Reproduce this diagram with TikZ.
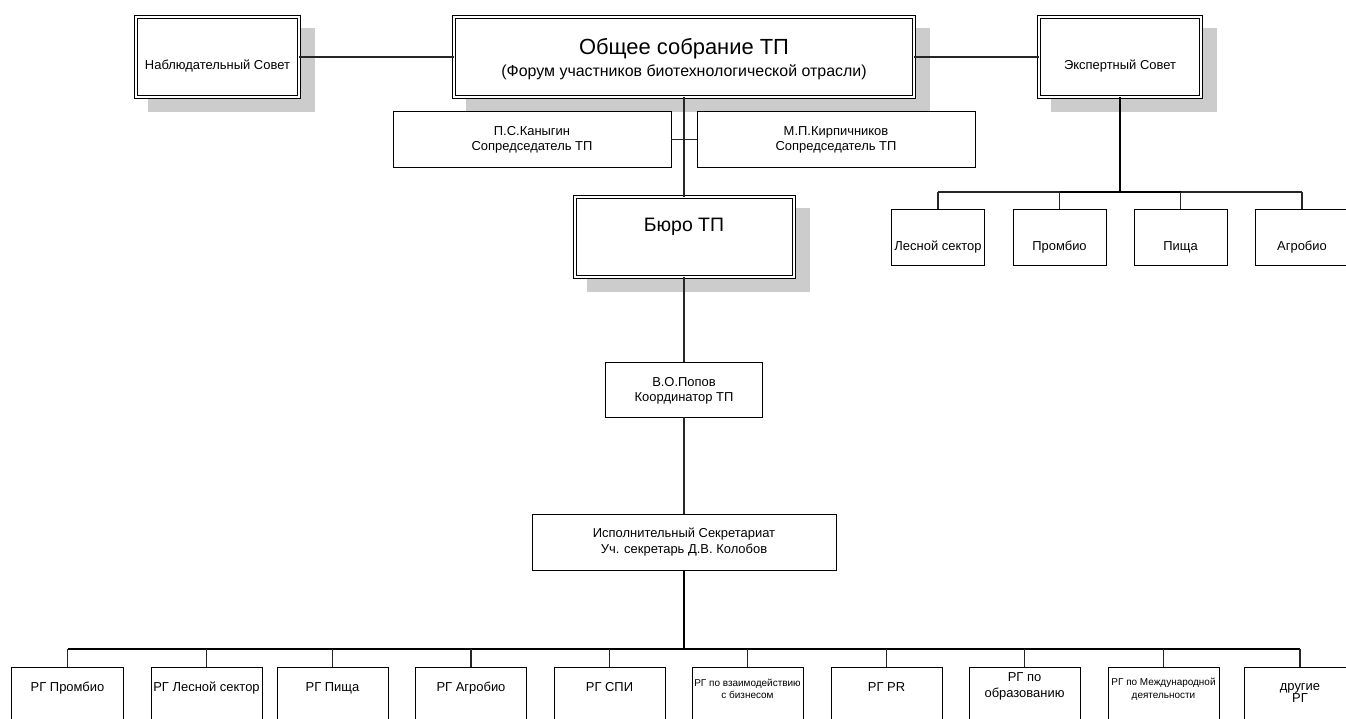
\documentclass[tikz,border=0pt]{standalone}
\usepackage{fontspec}
\setmainfont{Liberation Sans}
\usetikzlibrary{calc,backgrounds}
\begin{document}
\begin{tikzpicture}[x=1bp,y=-1bp,
  sbox/.style={draw=black, fill=white, line width=1bp, inner sep=0pt, outer sep=0pt},
  dbox/.style={sbox, double=white, double distance=2bp},
  ebox/.style={sbox, minimum width=93bp, minimum height=56bp},
  rbox/.style={sbox, minimum width=111bp, minimum height=56bp},
  shade/.style={fill=black!20},
  con/.style={draw=black!85, line width=1.1bp},
  heavy/.style={draw=black, line width=2bp},
  tx/.style={anchor=base, inner sep=0pt, outer sep=0pt, text=black, font=\fontsize{13}{15}\selectfont},
  tsm/.style={tx, font=\fontsize{10}{12}\selectfont}]
\useasboundingbox (0,0) rectangle (1346,718);
\clip (0,0) rectangle (1346,718);

% top row
\node[dbox, minimum width=163bp, minimum height=80bp] (nab) at (217.5,57) {};
\node[dbox, minimum width=460bp, minimum height=80bp] (gen) at (684,57) {};
\node[dbox, minimum width=162bp, minimum height=80bp] (exp) at (1120,57) {};
% co-chairs
\node[sbox, minimum width=278bp, minimum height=55bp] (kan) at (532,139.5) {};
\node[sbox, minimum width=278bp, minimum height=55bp] (kir) at (836,139.5) {};
% bureau
\node[dbox, minimum width=219bp, minimum height=80bp] (buro) at (684,237) {};
% coordinator, secretariat
\node[sbox, minimum width=157bp, minimum height=55bp] (pop) at (684,389.5) {};
\node[sbox, minimum width=304bp, minimum height=56bp] (sec) at (684,542) {};
% expert sectors
\node[ebox] (e1) at (938,237) {};
\node[ebox] (e2) at (1059.5,237) {};
\node[ebox] (e3) at (1180.5,237) {};
\node[ebox] (e4) at (1302,237) {};
% working groups
\node[rbox] (b1) at (67.5,695) {};
\node[rbox] (b2) at (206.5,695) {};
\node[rbox] (b3) at (332.5,695) {};
\node[rbox] (b4) at (471,695) {};
\node[rbox] (b5) at (609.5,695) {};
\node[rbox] (b6) at (747.5,695) {};
\node[rbox] (b7) at (886.5,695) {};
\node[rbox] (b8) at (1024.5,695) {};
\node[rbox] (b9) at (1163.5,695) {};
\node[rbox] (b10) at (1300,695) {};

% shadows
\begin{scope}[on background layer]
  \foreach \n in {nab,gen,exp,buro}
    \fill[shade] ($(\n.north west)+(12,11)$) rectangle ($(\n.south east)+(16,15)$);
\end{scope}

% texts
\node[tx] (nabT) at (217.5,69.7) {Наблюдательный Совет};
\node[tx, font=\fontsize{22}{26}\selectfont] (genT1) at (684,55) {Общее собрание ТП};
\node[tx, font=\fontsize{16}{19}\selectfont] (genT2) at (684,76.5) {(Форум участников биотехнологической отрасли)};
\node[tx] (expT) at (1120,69.7) {Экспертный Совет};
\node[tx] (kanT1) at (532,135.7) {П.С.Каныгин};
\node[tx] (kanT2) at (532,150) {Сопредседатель ТП};
\node[tx] (kirT1) at (836,135.7) {М.П.Кирпичников};
\node[tx] (kirT2) at (836,150) {Сопредседатель ТП};
\node[tx, font=\fontsize{19.5}{23}\selectfont] (buroT) at (684,231.7) {Бюро ТП};
\node[tx] (e1T) at (938,250) {Лесной сектор};
\node[tx] (e2T) at (1059.5,250) {Промбио};
\node[tx] (e3T) at (1180.5,250) {Пища};
\node[tx] (e4T) at (1302,250) {Агробио};
\node[tx] (popT1) at (684,386.5) {В.О.Попов};
\node[tx] (popT2) at (684,401.5) {Координатор ТП};
\node[tx] (secT1) at (684,537.7) {Исполнительный Секретариат};
\node[tx] (secT2) at (684,553.3) {Уч. секретарь Д.В. Колобов};
\node[tx] (b1T) at (67.5,691.7) {РГ Промбио};
\node[tx] (b2T) at (206.5,691.7) {РГ Лесной сектор};
\node[tx] (b3T) at (332.5,691.7) {РГ Пища};
\node[tx] (b4T) at (471,691.7) {РГ Агробио};
\node[tx] (b5T) at (609.5,691.7) {РГ СПИ};
\node[tsm] (b6T1) at (747.5,686) {РГ по взаимодействию};
\node[tsm] (b6T2) at (747.5,698) {с бизнесом};
\node[tx] (b7T) at (886.5,691.7) {РГ PR};
\node[tx] (b8T1) at (1024.5,681.7) {РГ по};
\node[tx] (b8T2) at (1024.5,697.7) {образованию};
\node[tsm] (b9T1) at (1163.5,685.7) {РГ по Международной};
\node[tsm] (b9T2) at (1163.5,698.3) {деятельности};
\node[tx] (b10T1) at (1300,690.5) {другие};
\node[tx] (b10T2) at (1300,702.3) {РГ};

% connectors
\draw[con] (nab.east) -- (gen.west);
\draw[con] (gen.east) -- (exp.west);
\draw[con] (gen.south) -- (buro.north);
\draw[con] (kan.east) -- (kir.west);
\draw[con] (buro.south) -- (pop.north);
\draw[con] (pop.south) -- (sec.north);

\coordinate (ebus) at (1120,192);
\draw[heavy] (exp.south) -- (ebus);
\draw[con] (e1.north |- ebus) -- (e4.north |- ebus);
\draw[heavy] (e2.north |- ebus) -- (e3.north |- ebus);
\foreach \i in {1,...,4} \draw[con] (e\i.north) -- (e\i.north |- ebus);

\coordinate (bus) at (684,649);
\draw[heavy] (sec.south) -- (bus);
\draw[con, draw=black] (b1.north |- bus) -- (b10.north |- bus);
\foreach \i in {1,...,10} \draw[con] (b\i.north) -- (b\i.north |- bus);
\end{tikzpicture}
\end{document}
